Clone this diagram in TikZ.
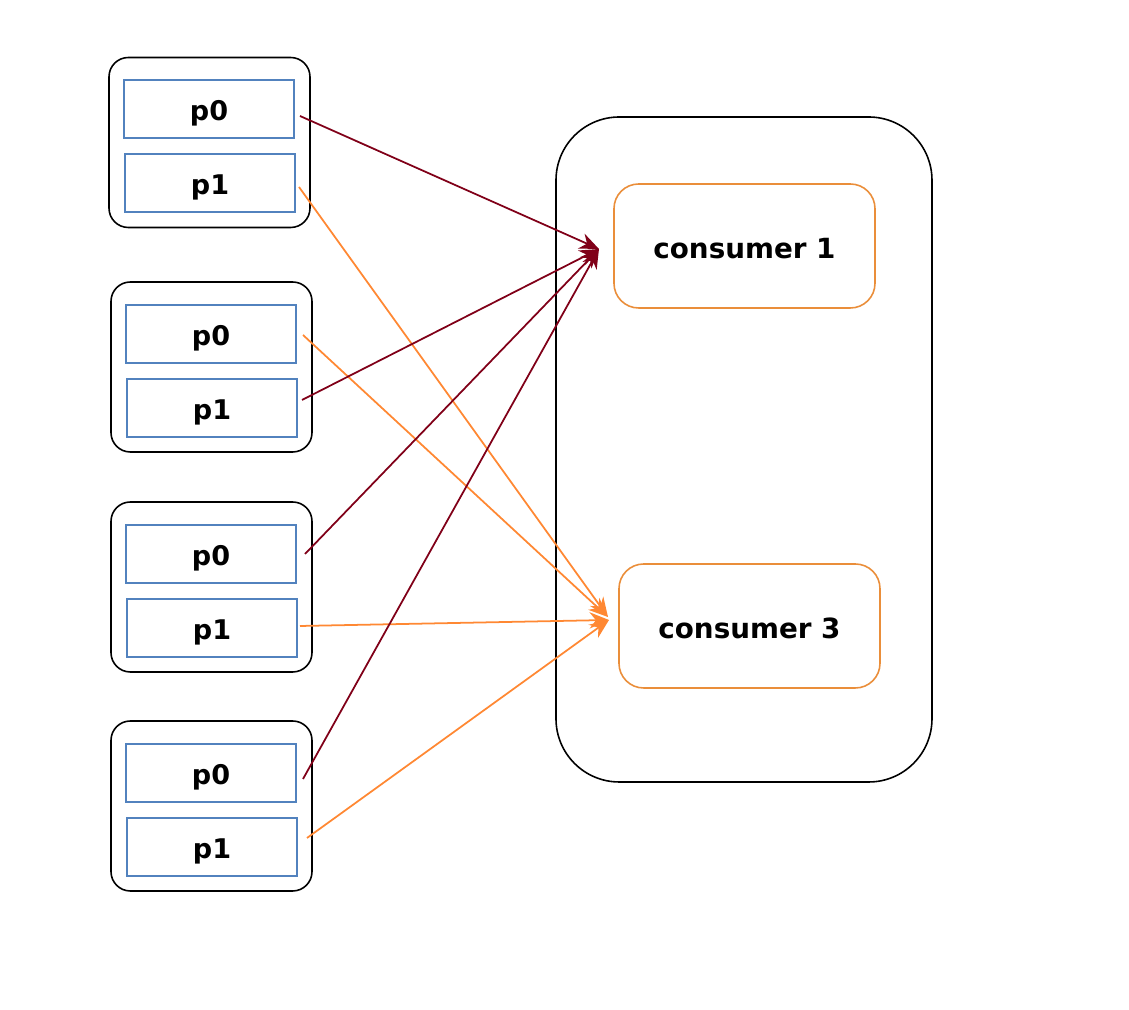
\documentclass[tikz,border=0pt]{standalone}
\usepackage{fontspec}
\setmainfont{DejaVu Sans}
\usetikzlibrary{arrows.meta}
\definecolor{dred}{RGB}{128,0,24}
\definecolor{dorange}{RGB}{255,136,51}
\definecolor{corange}{RGB}{234,142,58}
\definecolor{pblue}{RGB}{82,130,190}
\begin{document}
\begin{tikzpicture}[x=0.01cm,y=-0.01cm,
  grp/.style={draw=black,line width=0.45pt,rounded corners=5.5pt,minimum width=201*0.01cm,minimum height=170*0.01cm,inner sep=0pt},
  part/.style={draw=pblue,line width=0.45pt,minimum width=170*0.01cm,minimum height=58*0.01cm,inner sep=0pt,text height=6.8pt,text depth=0pt,font=\fontsize{7.7pt}{9pt}\bfseries},
  cons/.style={draw=corange,line width=0.45pt,rounded corners=7pt,minimum width=261*0.01cm,minimum height=124*0.01cm,inner sep=0pt,text height=6.9pt,text depth=0pt,font=\fontsize{7.9pt}{9pt}\bfseries},
  ered/.style={draw=dred,line width=0.5pt,-{Stealth[length=5.5pt,width=4.6pt]}},
  eorg/.style={draw=dorange,line width=0.5pt,-{Stealth[length=5.5pt,width=4.6pt]}}]
\useasboundingbox (0,0) rectangle (1129,1010);
% containers
\node[draw=black,line width=0.45pt,rounded corners=18pt,minimum width=376*0.01cm,minimum height=665*0.01cm,inner sep=0pt] (big) at (744,449.5) {};
\node[cons] (c1) at (744.5,246) {consumer 1};
\node[cons] (c3) at (749.5,626) {consumer 3};
% groups
\node[grp] (g1) at (209.5,142.5) {};
\node[part] (g1p0) at (209,109) {p0};
\node[part] (g1p1) at (210,183) {p1};
\node[grp] (g2) at (211.5,367) {};
\node[part] (g2p0) at (211,334) {p0};
\node[part] (g2p1) at (212,408) {p1};
\node[grp] (g3) at (211.5,587) {};
\node[part] (g3p0) at (211,554) {p0};
\node[part] (g3p1) at (212,628) {p1};
\node[grp] (g4) at (211.5,806) {};
\node[part] (g4p0) at (211,773) {p0};
\node[part] (g4p1) at (212,847) {p1};
% anchors
\coordinate (in1) at (599,249);
\coordinate (in3) at (608,617);
\coordinate (in3b) at (609,620);
\coordinate (s1a) at (300,116);
\coordinate (s1b) at (299,187);
\coordinate (s2a) at (303,335);
\coordinate (s2b) at (302,400);
\coordinate (s3a) at (305,554);
\coordinate (s3b) at (300,626);
\coordinate (s4a) at (303,779);
\coordinate (s4b) at (307,838);
% edges
\draw[ered] (s1a) -- (in1);
\draw[eorg] (s1b) -- (in3);
\draw[eorg] (s2a) -- (in3);
\draw[ered] (s2b) -- (in1);
\draw[ered] (s3a) -- (in1);
\draw[eorg] (s3b) -- (in3b);
\draw[ered] (s4a) -- (in1);
\draw[eorg] (s4b) -- (in3b);
\end{tikzpicture}
\end{document}
